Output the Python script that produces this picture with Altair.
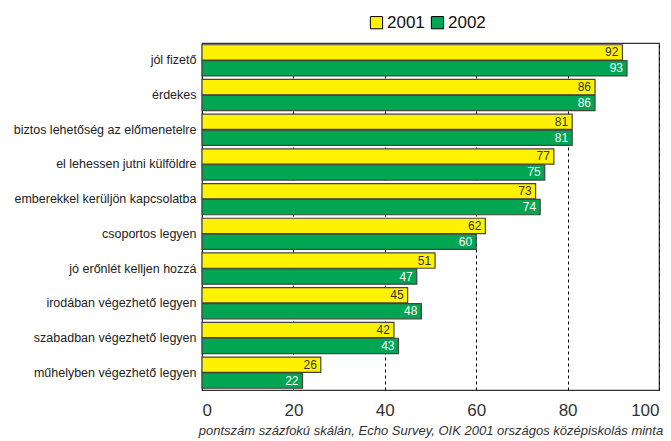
import altair as alt
import pandas as pd

categories = [
    "jól fizető",
    "érdekes",
    "biztos lehetőség az előmenetelre",
    "el lehessen jutni külföldre",
    "emberekkel kerüljön kapcsolatba",
    "csoportos legyen",
    "jó erőnlét kelljen hozzá",
    "irodában végezhető legyen",
    "szabadban végezhető legyen",
    "műhelyben végezhető legyen",
]
values_2001 = [92, 86, 81, 77, 73, 62, 51, 45, 42, 26]
values_2002 = [93, 86, 81, 75, 74, 60, 47, 48, 43, 22]
years = ["2001", "2002"]
colors = ["#FFF200", "#00A651"]
label_colors = ["#333333", "#FFFFFF"]
x_ticks = [0, 20, 40, 60, 80, 100]

rows = []
for c, a, b in zip(categories, values_2001, values_2002):
    rows.append({"cat": c, "year": "2001", "value": a})
    rows.append({"cat": c, "year": "2002", "value": b})
df = pd.DataFrame(rows)

FONT = "Liberation Sans"

y_enc = alt.Y(
    "cat:N", sort=categories, title=None,
    scale=alt.Scale(paddingInner=0.1, paddingOuter=0.05),
    axis=alt.Axis(labelFont=FONT, labelFontSize=12.5, labelColor="#222222",
                  ticks=False, domain=False, labelPadding=6, grid=False,
                  labelLimit=250),
)
yoff = alt.YOffset("year:N", sort=years, scale=alt.Scale(paddingInner=0.04))

x_enc = alt.X(
    "value:Q",
    scale=alt.Scale(domain=[0, 100], nice=False),
    title="pontszám százfokú skálán, Echo Survey, OIK 2001 országos középiskolás minta",
    axis=alt.Axis(values=x_ticks, labelFont=FONT, labelFontSize=17,
                  labelColor="#333333", ticks=False, domain=False,
                  labelPadding=12, grid=True, gridColor="#000000",
                  gridDash=[3, 3], gridWidth=1,
                  titleFont=FONT, titleFontSize=13, titleFontStyle="italic",
                  titleFontWeight="normal", titleColor="#333333",
                  titlePadding=6),
)

bars = alt.Chart(df).mark_bar(stroke="#444444", strokeWidth=1.2).encode(
    x=x_enc,
    y=y_enc,
    yOffset=yoff,
    color=alt.Color(
        "year:N", sort=years,
        scale=alt.Scale(domain=years, range=colors),
        legend=alt.Legend(
            title=None, orient="none", direction="horizontal",
            legendX=166, legendY=-29,
            symbolType="square", symbolSize=150, symbolStrokeColor="#000000",
            symbolStrokeWidth=1, symbolOpacity=1,
            labelFont=FONT, labelFontSize=17, labelColor="#111111",
            columnPadding=4, labelOffset=2,
        ),
    ),
)

texts = alt.Chart(df).mark_text(
    align="right", baseline="middle", dx=-4, font=FONT, fontSize=12
).encode(
    x=alt.X("value:Q"),
    y=alt.Y("cat:N", sort=categories),
    yOffset=alt.YOffset("year:N", sort=years),
    text=alt.Text("value:Q"),
    color=alt.Color("year:N", scale=alt.Scale(domain=years, range=label_colors),
                    legend=None),
)

chart = (
    alt.layer(bars, texts)
    .resolve_scale(color="independent")
    .properties(
        width=457, height=347,
        autosize=alt.AutoSizeParams(type="none"),
        padding={"left": 194, "top": 35, "right": 4, "bottom": 50},
        background="#FFFFFF",
    )
    .configure_view(stroke="#333333", strokeWidth=1.2)
)

chart.save("out.html", embed_options={"renderer": "svg", "actions": False})
